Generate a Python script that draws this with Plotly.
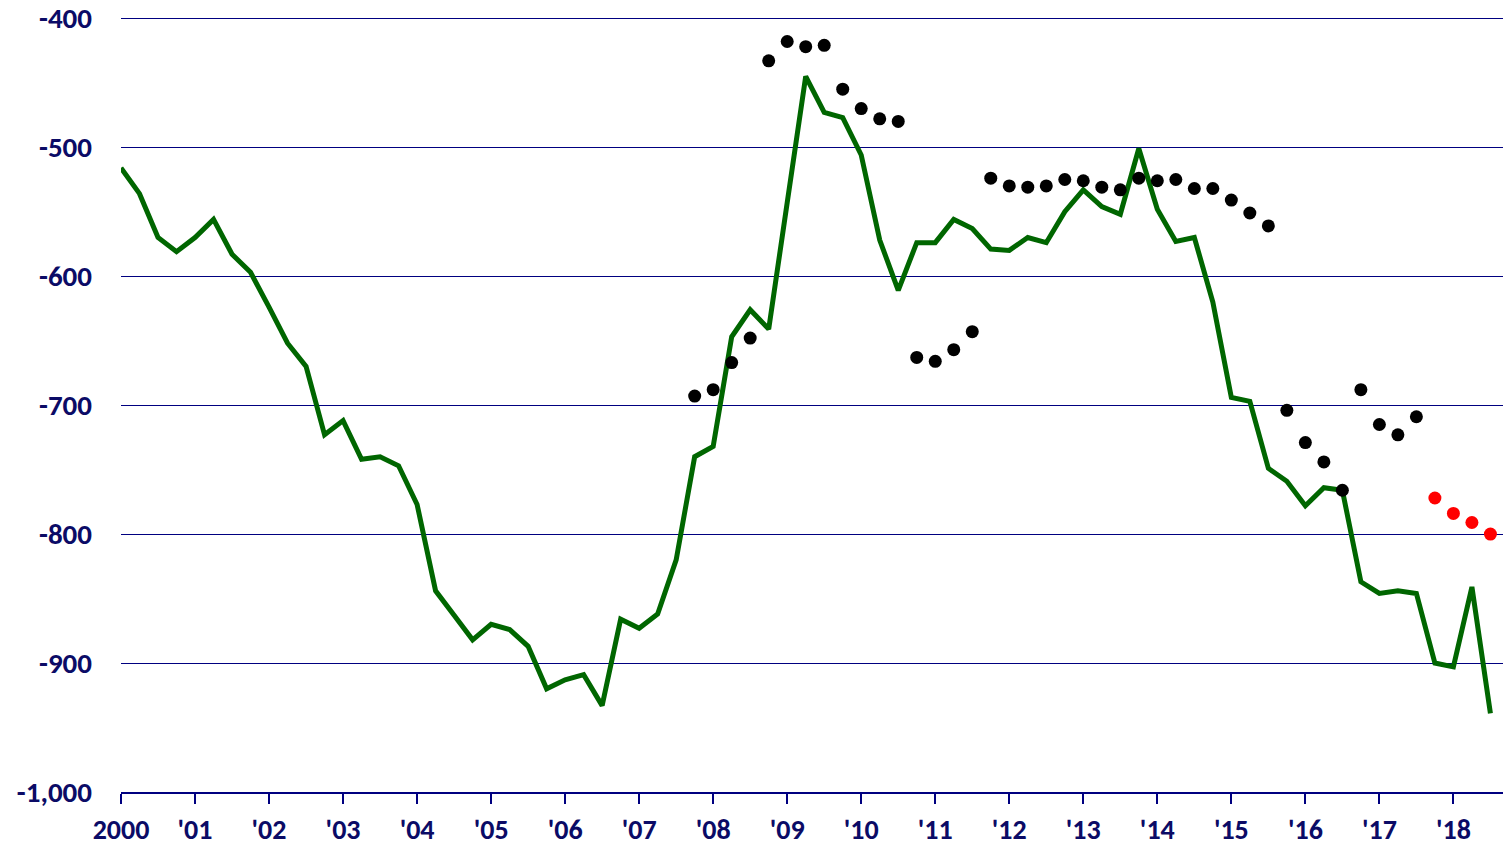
import plotly.graph_objects as go

# Quarterly series, 2000 Q1 .. 2018 Q3
start_year = 2000
green_values = [
    -516, -536, -570, -581, -570, -556, -583, -597, -624, -652,
    -670, -723, -712, -742, -740, -747, -777, -844, -863, -882,
    -870, -874, -887, -920, -913, -909, -933, -866, -873, -862,
    -820, -740, -732, -647, -626, -641, -543, -445, -473, -477,
    -506, -572, -611, -574, -574, -556, -563, -579, -580, -570,
    -574, -550, -533, -546, -552, -501, -548, -573, -570, -620,
    -694, -697, -749, -759, -778, -764, -766, -837, -846, -844,
    -846, -900, -903, -841, -939,
]
# Black dots: 2007 Q4 .. 2017 Q3 (quarter index 31..70)
black_start = 31
black_values = [
    -693, -688, -667, -648, -433, -418, -422, -421, -455, -470,
    -478, -480, -663, -666, -657, -643, -524, -530, -531, -530,
    -525, -526, -531, -533, -524, -526, -525, -532, -532, -541,
    -551, -561, -704, -729, -744, -766, -688, -715, -723, -709,
]
# Red dots: 2017 Q4 .. 2018 Q3 (quarter index 71..74)
red_start = 71
red_values = [-772, -784, -791, -800]

year_ticks = list(range(2000, 2019))
year_labels = ["2000", "'01", "'02", "'03", "'04", "'05", "'06", "'07", "'08", "'09",
               "'10", "'11", "'12", "'13", "'14", "'15", "'16", "'17", "'18"]
y_ticks = [-1000, -900, -800, -700, -600, -500, -400]
y_labels = ["-1,000", "-900", "-800", "-700", "-600", "-500", "-400"]

def qx(i):
    return start_year + i / 4.0

x_green = [qx(i) for i in range(len(green_values))]
x_black = [qx(black_start + i) for i in range(len(black_values))]
x_red = [qx(red_start + i) for i in range(len(red_values))]

navy = "#000080"
text_col = "#0b0b66"
font_fam = "Carlito, 'Liberation Sans Narrow', Lato, sans-serif"

fig = go.Figure()
fig.add_trace(go.Scatter(x=x_green, y=green_values, mode="lines",
                         line=dict(color="#006600", width=5), hoverinfo="skip"))
fig.add_trace(go.Scatter(x=x_black, y=black_values, mode="markers",
                         marker=dict(color="black", size=13), hoverinfo="skip"))
fig.add_trace(go.Scatter(x=x_red, y=red_values, mode="markers",
                         marker=dict(color="#ff0000", size=13), hoverinfo="skip"))

fig.update_layout(
    width=1503, height=848,
    margin=dict(l=121, r=0, t=17, b=56, pad=0, autoexpand=False),
    paper_bgcolor="white", plot_bgcolor="white",
    showlegend=False,
    font=dict(family=font_fam, size=29, color=text_col),
)
fig.update_xaxes(
    range=[2000, 2018.67], automargin=False,
    tickvals=year_ticks, ticktext=year_labels,
    tickfont=dict(family=font_fam, size=28, color=text_col, weight="bold"),
    showgrid=False, zeroline=False,
    showline=True, linecolor=navy, linewidth=2,
    ticks="outside", ticklen=10, tickwidth=1.5, tickcolor=navy,
    ticklabelstandoff=1,
)
fig.update_yaxes(
    range=[-1000, -399], automargin=False,
    tickvals=y_ticks, ticktext=y_labels,
    tickfont=dict(family=font_fam, size=29, color=text_col, weight="bold"),
    showgrid=True, gridcolor=navy, gridwidth=1,
    zeroline=False, showline=False, ticks="",
    ticklabelstandoff=28,
)

fig.write_html("out.html",
               config={"displayModeBar": False},
               post_script="document.body.style.margin='0';document.body.style.overflow='hidden';")
